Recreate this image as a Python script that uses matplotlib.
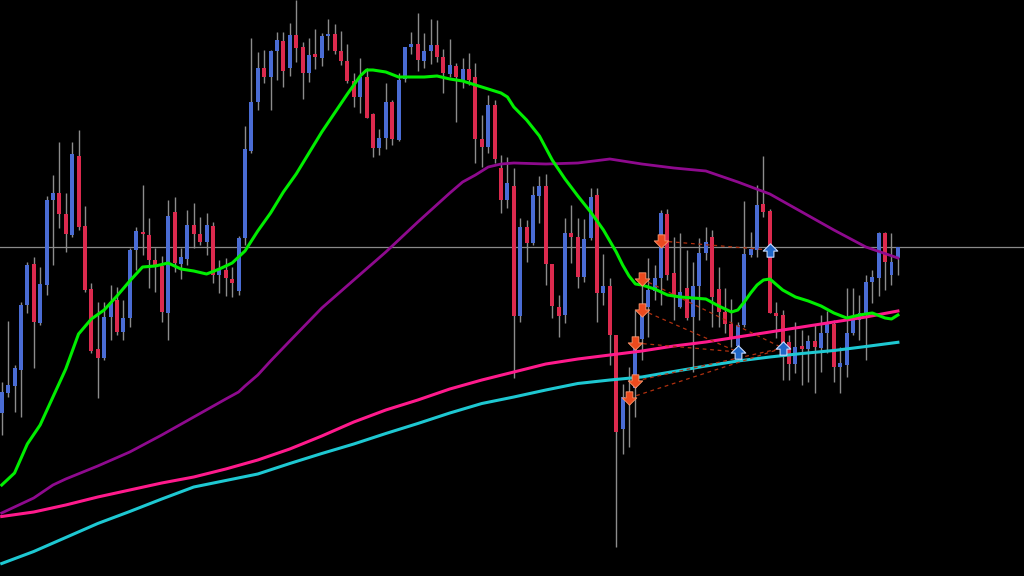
import numpy as np
import matplotlib
matplotlib.use("Agg")
import matplotlib.pyplot as plt
from matplotlib.path import Path

# OHLC candles, one per bar (arbitrary price units)
opens = [187, 207, 214, 230, 295, 336, 277, 315, 400, 407, 386, 365, 444, 374, 311, 251, 242, 283, 300, 268,
         282, 350, 368, 365, 340, 334, 287, 388, 336, 341, 375, 366, 358, 374, 325, 330, 321, 309, 362, 449,
         498, 532, 523, 549, 559, 532, 565, 553, 527, 546, 542, 564, 566, 549, 539, 519, 503, 523, 486, 452,
         462, 498, 460, 521, 553, 556, 539, 549, 555, 543, 526, 534, 520, 531, 523, 461, 453, 495, 432, 400,
         414, 284, 373, 357, 404, 414, 336, 293, 285, 367, 363, 323, 362, 405, 307, 314, 265, 171, 205, 212,
         261, 293, 309, 322, 386, 327, 293, 312, 283, 314, 347, 363, 311, 288, 276, 254, 275, 345, 350, 396,
         389, 287, 285, 258, 236, 254, 251, 259, 252, 267, 276, 233, 235, 267, 280, 287, 318, 322, 367, 325,
         342]
highs = [218, 279, 235, 298, 338, 343, 333, 404, 425, 458, 407, 458, 470, 394, 317, 298, 298, 315, 313, 300,
         352, 373, 415, 382, 352, 344, 400, 403, 352, 390, 397, 383, 387, 378, 340, 342, 333, 364, 474, 562,
         548, 550, 550, 568, 568, 577, 600, 558, 562, 571, 567, 581, 576, 569, 556, 527, 542, 532, 487, 471,
         517, 500, 527, 553, 568, 587, 567, 581, 580, 551, 561, 537, 542, 547, 537, 485, 505, 500, 445, 443,
         432, 382, 380, 414, 424, 426, 336, 305, 382, 395, 382, 381, 412, 412, 346, 322, 265, 216, 233, 290,
         327, 342, 335, 390, 391, 363, 367, 350, 338, 362, 373, 370, 333, 312, 301, 278, 399, 368, 415, 444,
         391, 298, 290, 265, 278, 270, 265, 275, 285, 289, 280, 253, 312, 312, 305, 325, 330, 368, 368, 367,
         353]
lows = [165, 203, 188, 183, 287, 232, 275, 305, 335, 372, 348, 363, 370, 308, 247, 202, 240, 260, 265, 260,
        273, 330, 345, 312, 308, 278, 260, 328, 321, 335, 352, 355, 345, 317, 307, 304, 303, 305, 355, 447,
        490, 517, 490, 520, 513, 524, 538, 501, 518, 531, 534, 550, 546, 535, 517, 493, 487, 482, 443, 445,
        451, 455, 459, 518, 546, 529, 532, 536, 538, 507, 523, 478, 512, 515, 437, 433, 447, 437, 387, 392,
        222, 278, 338, 355, 377, 315, 282, 263, 277, 337, 312, 318, 360, 278, 295, 235, 53, 146, 153, 183,
        240, 263, 300, 295, 320, 280, 292, 280, 228, 280, 340, 273, 273, 267, 253, 240, 273, 343, 343, 383,
        287, 262, 220, 220, 227, 215, 218, 207, 228, 247, 218, 207, 223, 265, 260, 240, 297, 304, 310, 315,
        325]
closes = [208, 215, 232, 295, 335, 278, 316, 400, 407, 386, 366, 446, 373, 310, 249, 242, 283, 298, 268, 282,
          350, 369, 366, 340, 334, 288, 384, 337, 343, 375, 366, 358, 375, 325, 330, 322, 317, 362, 451, 498,
          532, 523, 549, 560, 529, 565, 552, 527, 545, 543, 564, 566, 549, 539, 519, 503, 523, 482, 452, 462,
          498, 461, 520, 553, 556, 540, 549, 555, 543, 527, 535, 523, 531, 520, 461, 453, 495, 441, 400, 417,
          284, 373, 357, 405, 414, 336, 294, 284, 367, 363, 323, 361, 403, 307, 314, 265, 168, 203, 200, 257,
          290, 310, 322, 387, 325, 303, 308, 282, 314, 347, 358, 303, 288, 276, 263, 275, 346, 351, 395, 388,
          287, 284, 257, 236, 253, 251, 259, 253, 267, 276, 233, 237, 267, 280, 287, 318, 323, 367, 338, 338,
          353]

# moving averages read at sampled bars
fast_idx = [0, 2, 4, 6, 8, 10, 12, 14, 16, 18, 20, 22, 24, 26, 28, 30, 32, 34, 36, 38, 40, 42, 44, 46, 48,
            50, 52, 54, 55, 56, 57, 58, 60, 62, 64, 66, 68, 70, 72, 74, 76, 78, 79, 80, 82, 84, 86, 88, 90,
            92, 94, 96, 97, 98, 99, 100, 102, 104, 106, 108, 110, 112, 114, 115, 116, 117, 118, 119, 120,
            122, 124, 126, 128, 130, 132, 134, 136, 138, 139, 140]
fast_ma = [115, 127, 156, 175, 203, 231, 266, 281, 290, 304, 319, 333, 334, 337, 331, 329, 326, 331, 337, 349,
           369, 387, 408, 426, 447, 468, 487, 506, 515, 524, 530, 530, 528, 523, 523, 523, 524, 521, 519, 515,
           511, 507, 503, 493, 480, 464, 440, 421, 404, 388, 370, 348, 335, 324, 316, 315, 311, 305, 303, 302,
           301, 294, 288, 290, 298, 307, 315, 320, 321, 310, 303, 299, 294, 287, 282, 285, 287, 282, 281, 285]
mid_idx = [0, 5, 8, 10, 15, 20, 25, 30, 35, 37, 38, 40, 42, 45, 50, 55, 60, 65, 70, 72, 74, 76, 78, 80,
           85, 90, 95, 100, 105, 110, 115, 120, 125, 130, 135, 140]
mid_ma = [87, 102, 115, 121, 134, 148, 165, 183, 201, 208, 214, 225, 239, 259, 292, 320, 348, 378, 407, 418,
          425, 433, 436, 437, 436, 437, 441, 436, 432, 429, 418, 406, 388, 370, 353, 342]
slow_idx = list(range(0, 141, 5))
long_ma = [83.5, 88, 95, 103, 110, 117, 123, 131, 140, 151, 164, 178, 190, 200, 211, 220, 228, 236, 241, 245,
           249, 254, 258, 263, 268, 273, 278, 283, 289]
longest_ma = [36.5, 48.5, 62.5, 76.5, 88.5, 101, 113, 119.5, 126, 136.5, 146.5, 156, 166.5, 176.5, 187, 196.5,
              203, 210, 216.5, 220, 223, 228.5, 234, 239, 243, 246.5, 249.5, 253.5, 257.7]

bid_price = 352.7

# trade arrows: (bar, price) pairs, entry -> exit
sell_bars = [103, 100, 100, 99, 99, 98]
sell_prices = [359, 321, 290, 257, 219, 202]
exit_bars = [120, 122, 115, 115, 122, 122]
exit_prices = [350, 252, 248, 248, 252, 252]
buy_bars = [120, 115, 122]
buy_prices = [350, 248, 252]

bull_col = '#4a6cd4'
bear_col = '#dc2a4e'

fig = plt.figure(figsize=(10.24, 5.76), dpi=100, facecolor='black')
ax = fig.add_axes([0, 0, 1, 1])
ax.set_facecolor('black')

o = np.array(opens, float)
c = np.array(closes, float)
h = np.array(highs, float)
l = np.array(lows, float)
x = np.arange(len(o))

ax.axhline(bid_price, color='#8a8a8a', lw=0.9, zorder=1)

# wicks and bodies
ax.vlines(x, l, h, color='#8c8c8c', lw=1, zorder=2)
up = c >= o
body_h = np.where(np.abs(c - o) < 1.2, 1.2, c - o)
ax.bar(x, body_h, bottom=o, width=0.62, color=np.where(up, bull_col, bear_col), zorder=3, linewidth=0)

# moving averages
ax.plot(slow_idx, longest_ma, color='#1ec8d2', lw=2.2, zorder=4)
ax.plot(slow_idx, long_ma, color='#ff1a8c', lw=2.2, zorder=4)
ax.plot(mid_idx, mid_ma, color='#8e0a8e', lw=2.0, zorder=4)
ax.plot(fast_idx, fast_ma, color='#00ee00', lw=2.2, zorder=5, solid_joinstyle='round')

# trade lines
for sb, sp, eb, ep in zip(sell_bars, sell_prices, exit_bars, exit_prices):
    ax.plot([sb, eb], [sp, ep], color='#b0300f', lw=0.9, ls=(0, (3, 3)), zorder=4)

arrow_down = Path([(-0.28, 0.55), (0.28, 0.55), (0.28, 0.05), (0.6, 0.05), (0, -0.55),
                   (-0.6, 0.05), (-0.28, 0.05), (-0.28, 0.55)], closed=True)
arrow_up = Path([(-0.28, -0.55), (0.28, -0.55), (0.28, -0.05), (0.6, -0.05), (0, 0.55),
                 (-0.6, -0.05), (-0.28, -0.05), (-0.28, -0.55)], closed=True)

ax.scatter(sell_bars, sell_prices, marker=arrow_down, s=110, color='#ec4a1e',
           edgecolors='#ff9a70', linewidths=0.6, zorder=6)
ax.scatter(buy_bars, buy_prices, marker=arrow_up, s=110, color='#1f66c8',
           edgecolors='#c8dcff', linewidths=0.8, zorder=6)

ax.set_xlim(-0.27, 159.7)
ax.set_ylim(24, 600)
ax.axis('off')

fig.savefig('out.png', dpi=100, facecolor='black')
